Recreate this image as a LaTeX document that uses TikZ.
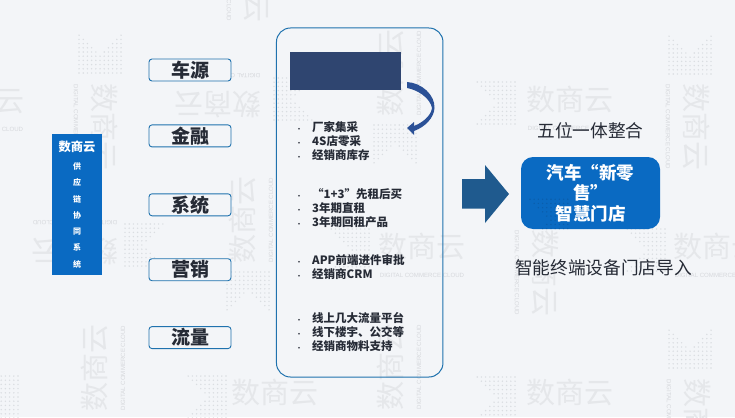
\documentclass[tikz,border=0pt]{standalone}
\usepackage{fontspec}
\setmainfont{Noto Sans CJK SC}
\newfontfamily\wmlatin{Liberation Sans}
\usepackage{xcolor}
\usepackage{tikz}
\usetikzlibrary{positioning}
\definecolor{bgcol}{HTML}{F3F5F8}
\definecolor{bluecol}{HTML}{0A6AC2}
\definecolor{linecol}{HTML}{1F72AE}
\definecolor{hdrcol}{HTML}{2F4570}
\definecolor{bendcol}{HTML}{2B5197}
\definecolor{arrowcol}{HTML}{1F5A8E}
\definecolor{inkcol}{HTML}{262B36}
\definecolor{wmcol}{HTML}{E5E7EA}
\definecolor{wmsub}{HTML}{D6D8DC}
\definecolor{dotcol}{HTML}{DADDE1}
\definecolor{ctadot}{HTML}{0A5EAC}
\tikzstyle{wmark} = [text=wmcol, align=center, inner sep=0pt, font=\fontsize{29}{30}\selectfont]
\tikzstyle{topic} = [rectangle, draw=linecol, fill=bgcol, rounded corners=3pt, line width=0.9pt, minimum width=82pt, minimum height=22pt, inner sep=0pt, text=inkcol, font=\fontsize{19}{20}\selectfont\bfseries]
\tikzstyle{itemlist} = [align=left, inner sep=0pt, text=inkcol, font=\fontsize{11.5}{14}\selectfont\bfseries]
\tikzstyle{caption} = [inner sep=0pt, text=inkcol, font=\fontsize{17.7}{20}\selectfont]
\newcommand{\bul}{\makebox[16pt][l]{\fontsize{6}{6}\selectfont\textbullet}}
\newcommand{\dotpatch}[4]{
  \begin{scope}[shift={(#1,#2)}, rotate=#3]
    \foreach \i in {-5,...,5} \foreach \j in {-5,...,5} {
      \pgfmathtruncatemacro{\keep}{\i > -0.9*abs(\j) ? 1 : 0}
      \ifnum\keep=1 \fill[#4] (\i*4.2,\j*4.2) circle (0.8pt); \fi
    }
  \end{scope}
}
\begin{document}
\begin{tikzpicture}[x=1pt, y=-1pt]
    \useasboundingbox (0,0) rectangle (735,417);
    \fill[bgcol] (0,0) rectangle (735,417);

    \foreach \x/\y/\a [count=\n] in {275/401/0, 570/108/0, 422/255/0, 717/255/0, 570/401/0, -19/109/0,
        218/96/180, 75/243/180, 96/127/-90, 688/127/-90, 689/422/-90, 537/273/-90, 249/-21/-90,
        103/368/90, 251/220/90, 399/73/90, 399/367/90}
        \node[wmark, rotate=\a] (wm\n) at (\x,\y) {数商云\\[-10pt]{\wmlatin\color{wmsub}\fontsize{6.1}{7}\selectfont DIGITAL COMMERCE CLOUD}};
    \foreach \x/\y/\a in {494/103/0, 348/250/0, 644/250/0, 494/398/0, 205/397/0, -3/397/0,
        295/99/180, 146/245/180, 100/52/-90, 690/53/-90, 690/347/-90,
        395/146/90, 248/293/90} {
        \dotpatch{\x}{\y}{\a}{dotcol}
    }

    \node[rectangle, fill=bluecol, minimum width=50pt, minimum height=141pt, inner sep=0pt, text=white, align=center, font=\fontsize{8}{16.3}\selectfont\bfseries] (supply) at (77,204.5)
        {{\fontsize{12.3}{16.3}\selectfont 数商云}\\[1.7pt]供\\应\\链\\协\\同\\系\\统};

    \node[topic] (source) at (190,70) {车源};
    \node[topic, below=43pt of source] (finance) {金融};
    \node[topic, below=46pt of finance] (systems) {系统};
    \node[topic, below=42pt of systems] (market) {营销};
    \node[topic, below=45pt of market] (traffic) {流量};

    \node[rectangle, draw=linecol, rounded corners=14pt, line width=1pt, minimum width=166.5pt, minimum height=349pt] (panel) at (359.7,202.5) {};
    \node[rectangle, fill=hdrcol, minimum width=111pt, minimum height=38pt, inner sep=0pt] (hdr) at (345.5,71) {};
    \coordinate (bendfrom) at (407,82);
    \coordinate (bendtip) at (407,128);
    \fill[bendcol] (bendfrom) .. controls (422,83) and (435,95) .. (434.5,108) .. controls (434,118) and (425,127) .. (414,131)
        -- (414,135) -- (bendtip) -- (414,122) -- (414,126) .. controls (422,123) and (431,116) .. (432,108) .. controls (430,98) and (418,90) .. (407,88) -- cycle;

    \node[itemlist, anchor=north west] (items1) at (296,121) {\bul 厂家集采\\\bul 4S店零采\\\bul 经销商库存};
    \node[itemlist, below right=28pt and 0pt of items1.south west] (items2) {\bul “1+3”先租后买\\\bul 3年期直租\\\bul 3年期回租产品};
    \node[itemlist, below right=26pt and 0pt of items2.south west] (items3) {\bul APP前端进件审批\\\bul 经销商CRM};
    \node[itemlist, below right=33pt and 0pt of items3.south west] (items4) {\bul 线上几大流量平台\\\bul 线下楼宇、公交等\\\bul 经销商物料支持};

    \fill[arrowcol] (462,179) -- (485,179) -- (485,165) -- (509,194) -- (485,223) -- (485,208.5) -- (462,208.5) -- cycle;

    \node[rectangle, fill=bluecol, rounded corners=12pt, minimum width=139pt, minimum height=72pt, inner sep=0pt, text=white, align=center, font=\fontsize{17.5}{20.5}\selectfont\bfseries,
        path picture={\dotpatch{541}{197}{-90}{ctadot}}] (store) at (590.5,193)
        {汽车“新零\\售”\\智慧门店};
    \node[caption, above=18pt of store] (merge) {五位一体整合};
    \node[caption, below=30pt of store, xshift=13pt] (device) {智能终端设备门店导入};
\end{tikzpicture}
\end{document}
